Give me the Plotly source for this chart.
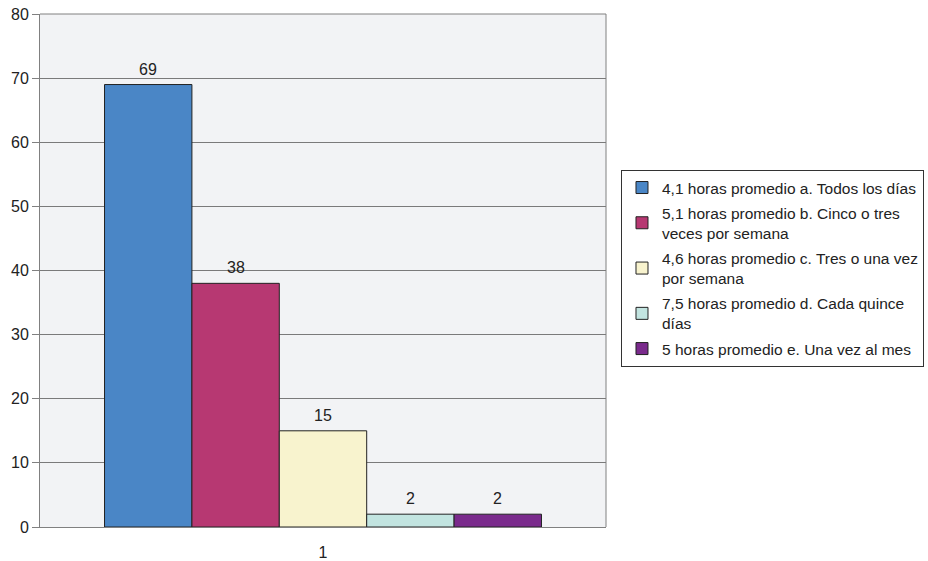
import plotly.graph_objects as go

categories = ["1"]
series_names = [
    "4,1 horas promedio a. Todos los días",
    "5,1 horas promedio b. Cinco o tres<br>veces por semana",
    "4,6 horas promedio c. Tres o una vez<br>por semana",
    "7,5 horas promedio d. Cada quince<br>días",
    "5 horas promedio e. Una vez al mes",
]
series_values = [[69], [38], [15], [2], [2]]
colors = ["#4A86C6", "#B73872", "#F8F3CE", "#C2E4E0", "#7A2A8C"]
y_ticks = [0, 10, 20, 30, 40, 50, 60, 70, 80]

FONT = "Liberation Sans, Arial, sans-serif"
bargap = 0.228
n = len(series_values)
bar_w = (1 - bargap) / n

fig = go.Figure()
annotations = []
for i, (name, vals, col) in enumerate(zip(series_names, series_values, colors)):
    fig.add_trace(go.Bar(
        x=categories, y=vals, name=name, legendgroup="g%d" % i,
        marker=dict(color=col, line=dict(color="#222222", width=1)),
        cliponaxis=False,
    ))
    for ci, v in enumerate(vals):
        annotations.append(dict(
            x=ci - (1 - bargap) / 2 + bar_w * (i + 0.5), y=v, xref="x", yref="y",
            text=str(v), showarrow=False, yanchor="bottom", yshift=5,
            font=dict(size=16, color="#222222", family=FONT),
        ))

fig.update_layout(
    width=928, height=561,
    margin=dict(l=40, r=322, t=14, b=34, autoexpand=False),
    paper_bgcolor="white",
    plot_bgcolor="#F2F3F5",
    barmode="group", bargap=bargap, bargroupgap=0,
    font=dict(family=FONT, size=16, color="#222222"),
    showlegend=True,
    legend=dict(
        x=1.0265, y=0.696, xanchor="left", yanchor="top",
        bordercolor="#333333", borderwidth=1,
        font=dict(size=15.5, color="#222222", family=FONT),
        tracegroupgap=2, itemwidth=30,
    ),
    annotations=annotations,
)
fig.update_yaxes(
    range=[0, 80], tickvals=y_ticks, showgrid=True, gridcolor="#7A7A7A", gridwidth=1,
    showline=True, linecolor="#808080", linewidth=1,
    ticks="outside", ticklen=7, tickcolor="#808080", zeroline=False,
    automargin=False, tickfont=dict(size=16), ticklabeloverflow="allow",
)
fig.update_xaxes(
    showline=True, linecolor="#808080", linewidth=1, ticks="", ticklabelstandoff=11,
    automargin=False, tickfont=dict(size=16), ticklabeloverflow="allow",
)
fig.add_shape(type="line", xref="paper", yref="paper", x0=1, x1=1, y0=0, y1=1,
              line=dict(color="#808080", width=1))
fig.add_shape(type="line", xref="paper", yref="paper", x0=0, x1=1, y0=1, y1=1,
              line=dict(color="#808080", width=1))
fig.write_html("out.html", config={"displayModeBar": False},
               post_script="document.body.style.margin='0';")
